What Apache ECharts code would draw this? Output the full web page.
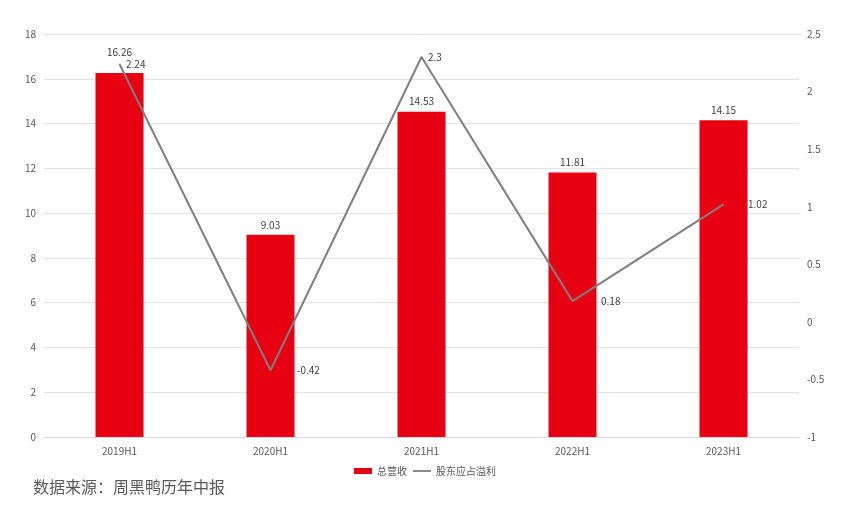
<!DOCTYPE html>
<html><head><meta charset="utf-8">
<script src="https://cdn.jsdelivr.net/npm/echarts@6/dist/echarts.min.js"></script>
<style>html,body{margin:0;padding:0;background:#fff}#c{width:850px;height:511px}</style>
</head><body><div id="c"></div>
<script>
var categories = ['2019H1','2020H1','2021H1','2022H1','2023H1'];
var revenue = [16.26, 9.03, 14.53, 11.81, 14.15];
var profit = [2.24, -0.42, 2.3, 0.18, 1.02];
var leftTicks = {min: 0, max: 18, interval: 2};
var rightTicks = {min: -1, max: 2.5, interval: 0.5};
var profitLabelDist = [6, 26, 6, 28, 24];
var revenueLabelDist = [16, 5, 5, 5, 5];

var font = '"Noto Sans CJK SC", "Noto Sans", sans-serif';
var chart = echarts.init(document.getElementById('c'), null, {renderer: 'canvas'});
chart.setOption({
  animation: false,
  textStyle: {fontFamily: font},
  grid: {left: 44, right: 51, top: 34, bottom: 74},
  legend: {
    bottom: 30, left: 'center', itemGap: 6, itemWidth: 18, itemHeight: 6,
    textStyle: {fontSize: 10, color: '#595959', fontFamily: font},
    data: [{name: '总营收', icon: 'rect'}, {name: '股东应占溢利', icon: 'path://M0,0H10V1H0Z'}]
  },
  xAxis: {
    type: 'category', data: categories,
    axisLine: {lineStyle: {color: '#d9d9d9'}},
    axisTick: {show: false},
    axisLabel: {fontSize: 10, color: '#595959', margin: 9}
  },
  yAxis: [{
    type: 'value', min: leftTicks.min, max: leftTicks.max, interval: leftTicks.interval,
    axisLine: {show: false}, axisTick: {show: false},
    axisLabel: {fontSize: 10, color: '#595959', margin: 8},
    splitLine: {lineStyle: {color: '#e3e3e3'}}
  }, {
    type: 'value', min: rightTicks.min, max: rightTicks.max, interval: rightTicks.interval,
    axisLine: {show: false}, axisTick: {show: false},
    axisLabel: {fontSize: 10, color: '#595959', margin: 8},
    splitLine: {show: false}
  }],
  series: [{
    name: '总营收', type: 'bar', barWidth: 48,
    data: revenue.map(function(v, i){
      return {value: v, label: {distance: revenueLabelDist[i]}};
    }),
    itemStyle: {color: '#e60012'},
    label: {show: true, position: 'top', fontSize: 10, color: '#404040'}
  }, {
    name: '股东应占溢利', type: 'line', yAxisIndex: 1,
    data: profit.map(function(v, i){
      return {value: v, label: {distance: profitLabelDist[i]}};
    }),
    symbol: 'circle', symbolSize: 1, showSymbol: true,
    lineStyle: {color: '#7f7f7f', width: 2},
    itemStyle: {color: '#7f7f7f'},
    label: {show: true, position: 'right', fontSize: 10, color: '#404040'}
  }],
  graphic: [{
    type: 'text', left: 33, top: 479,
    style: {text: '数据来源：周黑鸭历年中报', fontSize: 16, fill: '#595959', fontFamily: font}
  }]
});
</script>
</body></html>
